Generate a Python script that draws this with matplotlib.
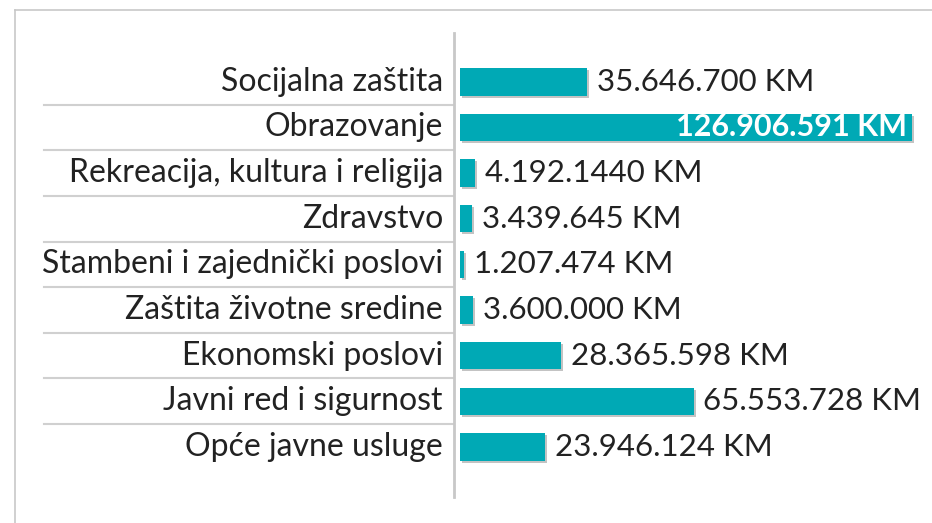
import matplotlib
matplotlib.use('Agg')
import matplotlib.pyplot as plt
import matplotlib.patheffects as pe
from matplotlib.lines import Line2D

plt.rcParams['font.family'] = ['Lato', 'DejaVu Sans']

kategorije = ['Opće javne usluge', 'Javni red i sigurnost', 'Ekonomski poslovi',
              'Zaštita životne sredine', 'Stambeni i zajednički poslovi', 'Zdravstvo',
              'Rekreacija, kultura i religija', 'Obrazovanje', 'Socijalna zaštita']
iznosi = [23946124, 65553728, 28365598, 3600000, 1207474, 3439645,
          4192144, 126906591, 35646700]
oznake = ['23.946.124 KM', '65.553.728 KM', '28.365.598 KM', '3.600.000 KM',
          '1.207.474 KM', '3.439.645 KM', '4.192.1440 KM', '126.906.591 KM',
          '35.646.700 KM']

boja = '#00a9b5'

fig = plt.figure(figsize=(9.32, 5.23), dpi=100)
ax = fig.add_axes([454/932, 1 - 497/523, 478/932, 464/523])

y = range(len(kategorije))
bars = ax.barh(y, iznosi, height=0.6, color=boja,
               path_effects=[pe.SimplePatchShadow(offset=(1.5, -1.5), shadow_rgbFace='#aaaaaa', alpha=0.7),
                             pe.Normal()])

ax.set_xlim(-1.68e6, 132.5e6)
ax.set_ylim(-1.1, 9.07)

for i, (v, t) in enumerate(zip(iznosi, oznake)):
    if v == max(iznosi):
        ax.annotate(t, (v, i), xytext=(-4, 0), textcoords='offset points',
                    ha='right', va='center', fontsize=22, color='white', fontweight='bold')
    else:
        ax.annotate(t, (v, i), xytext=(7, 0), textcoords='offset points',
                    ha='left', va='center', fontsize=22.5, color='#222222')
    ax.annotate(kategorije[i], (0, i), xycoords=('axes fraction', 'data'),
                xytext=(-8, 0), textcoords='offset points',
                ha='right', va='center', fontsize=23, color='#222222')

# linije izmedju kategorija
trans = ax.get_yaxis_transform()
for i in range(len(kategorije) - 1):
    ax.plot([-0.858, 0], [i + 0.5, i + 0.5], color='#d0d0d0', lw=1.5,
            transform=trans, clip_on=False)

for s in ['top', 'right', 'bottom']:
    ax.spines[s].set_visible(False)
ax.spines['left'].set_color('#c8c8c8')
ax.spines['left'].set_linewidth(2)
ax.set_xticks([])
ax.set_yticks([])

# okvir
fig.add_artist(Line2D([15/932, 1], [1 - 10/523, 1 - 10/523], color='#c8c8c8', lw=1.2))
fig.add_artist(Line2D([15/932, 15/932], [0, 1 - 10/523], color='#c8c8c8', lw=1.2))

fig.savefig('out.png', dpi=100)
